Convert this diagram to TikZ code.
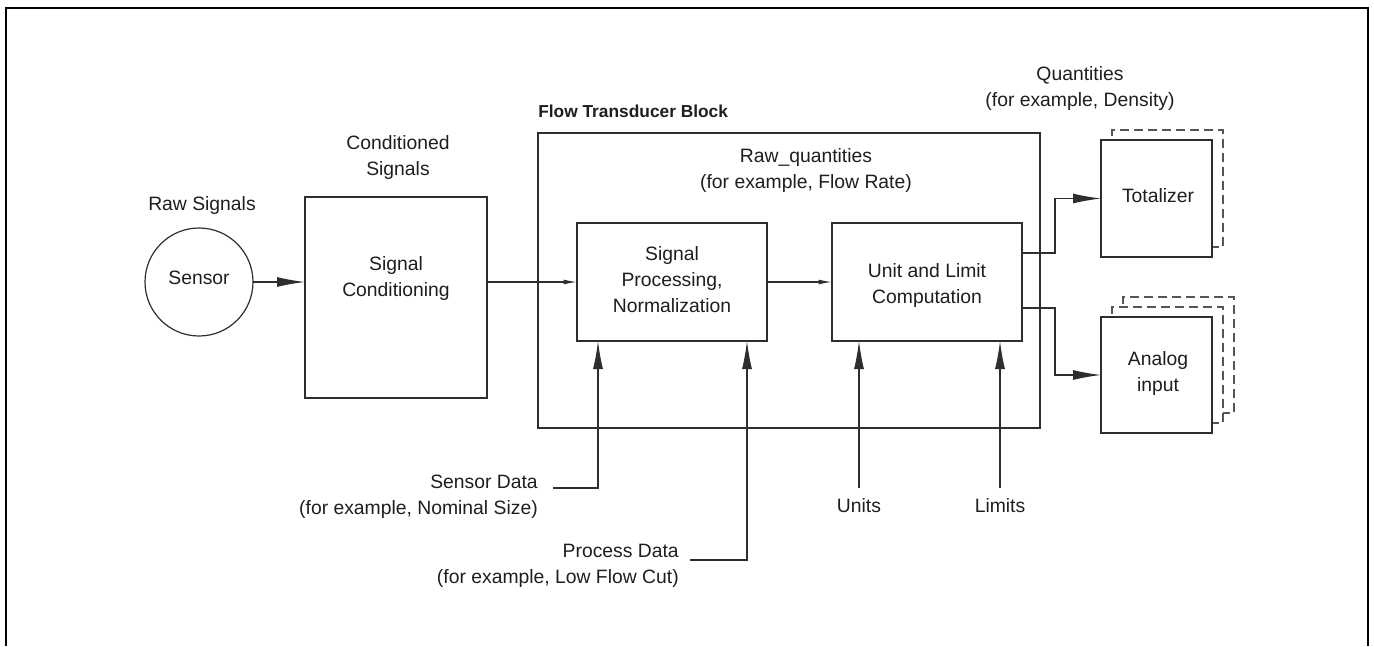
\documentclass[tikz,border=0pt]{standalone}
\usepackage{fontspec}
\setmainfont{Liberation Sans}
\usetikzlibrary{arrows.meta,calc}
\definecolor{linec}{HTML}{2E2E2E}
\definecolor{textc}{HTML}{1E1E1E}
\definecolor{dashc}{HTML}{555555}
\tikzset{
  boxn/.style={draw=linec, line width=0.9pt, fill=white, inner sep=0pt, outer sep=0pt},
  shadown/.style={draw=dashc, line width=0.9pt, dash pattern=on 6.5pt off 4pt, fill=white, inner sep=0pt, outer sep=0pt},
  txt/.style={font=\fontsize{14.5}{19.5}\selectfont, text=textc, align=center, inner sep=0pt},
  conn/.style={draw=linec, line width=0.9pt},
  bigarr/.style={conn, -{Latex[length=21pt, width=7.5pt]}},
  smallarr/.style={conn, -{Latex[length=10pt, width=3.6pt]}},
}
\begin{document}
\begin{tikzpicture}[x=0.75pt, y=-0.75pt]
\useasboundingbox (0,0) rectangle (1374,646);
% outer frame
\draw[line width=1.6pt, black] (6,646) -- (6,8) -- (1368,8) -- (1368,646);

% flow transducer block
\node[boxn, minimum width=376.5pt, minimum height=221.25pt] (ftb) at (789,280.5) {};
\node[font=\fontsize{13}{16}\selectfont\bfseries, text=textc, inner sep=0pt, anchor=base west] (ftbl) at (538,117) {Flow Transducer Block};
\node[txt] (rawq) at (806,170) {Raw\_quantities\\(for example, Flow Rate)};

% sensor
\node[draw=linec, line width=0.9pt, circle, minimum size=81pt, inner sep=0pt, outer sep=0pt] (sensor) at (199,282) {};
\node[txt, anchor=base] (sensort) at (199,284) {Sensor};
\node[txt, anchor=base] (raws) at (202,210) {Raw Signals};

% signal conditioning
\node[boxn, minimum width=136.5pt, minimum height=150.75pt] (cond) at (396,297.5) {};
\node[txt] (condt) at (396,278) {Signal\\Conditioning};
\node[txt] (condl) at (398,157) {Conditioned\\Signals};

% signal processing
\node[boxn, minimum width=142.5pt, minimum height=88.5pt] (sp) at (672,282) {};
\node[txt] (spt) at (672,280) {Signal\\Processing,\\Normalization};

% unit and limit
\node[boxn, minimum width=142.5pt, minimum height=88.5pt] (ulc) at (927,282) {};
\node[txt] (ulct) at (927,285) {Unit and Limit\\Computation};

% totalizer with one shadow
\node[shadown, minimum width=83.25pt, minimum height=87.75pt] (tot2) at (1167.5,188.5) {};
\node[boxn, minimum width=83.25pt, minimum height=87.75pt] (tot) at (1156.5,198.5) {};
\node[txt, anchor=base] (tott) at (1158,202) {Totalizer};
\node[txt] (quant) at (1080,88.5) {Quantities\\(for example, Density)};

% analog input with two shadows
\node[shadown, minimum width=83.25pt, minimum height=87pt] (ai3) at (1178.5,355) {};
\node[shadown, minimum width=83.25pt, minimum height=87pt] (ai2) at (1167.5,365) {};
\node[boxn, minimum width=83.25pt, minimum height=87pt] (ai) at (1156.5,375) {};
\node[txt] (ait) at (1158,373.5) {Analog\\input};

% main flow
\draw[bigarr] (sensor.east) -- (sensor.east -| cond.west);
\draw[smallarr] (cond.east |- sp.west) -- (sp.west);
\draw[smallarr] (sp.east) -- (ulc.west);

% outputs
\coordinate (o1) at (1022,253);
\coordinate (o2) at (1022,308);
\coordinate (bend) at (1055,0);
\draw[bigarr] (o1) -- (o1 -| bend) |- (tot.west);
\draw[bigarr] (o2) -- (o2 -| bend) |- (ai.west);

% inputs from below
\coordinate (sdin) at (598,341);
\coordinate (pdin) at (747,341);
\coordinate (unin) at (859,341);
\coordinate (liin) at (1000,341);
\coordinate (sdst) at (553,488);
\coordinate (pdst) at (690,560);
\coordinate (unst) at (859,488);
\coordinate (list) at (1000,488);
\draw[bigarr] (sdst) -| (sdin);
\draw[bigarr] (pdst) -| (pdin);
\draw[bigarr] (unst) -- (unin);
\draw[bigarr] (list) -- (liin);

\node[txt, align=right, anchor=east] (sdt) at (538,497) {Sensor Data\\(for example, Nominal Size)};
\node[txt, align=right, anchor=east] (pdt) at (679,566) {Process Data\\(for example, Low Flow Cut)};
\node[txt, anchor=base] (unt) at (859,512) {Units};
\node[txt, anchor=base] (lit) at (1000,512) {Limits};
\end{tikzpicture}
\end{document}
